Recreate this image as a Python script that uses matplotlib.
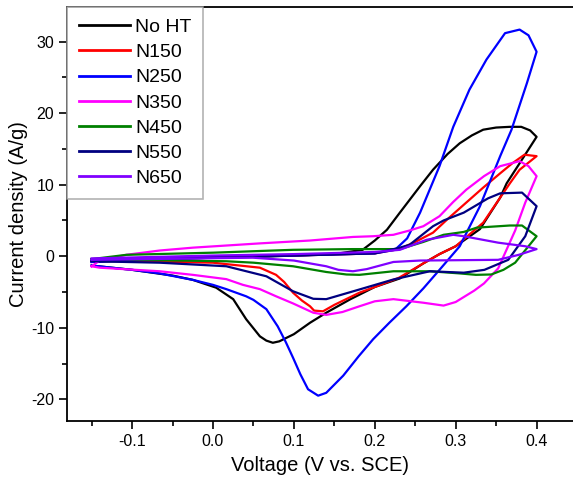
import matplotlib
matplotlib.use("Agg")
import matplotlib.pyplot as plt
from matplotlib.ticker import MultipleLocator

plt.rcParams['font.family'] = ['Liberation Sans', 'DejaVu Sans']
plt.rcParams['axes.unicode_minus'] = False

# --- data (each list is one closed CV loop) ---
labels = ['No HT', 'N150', 'N250', 'N350', 'N450', 'N550', 'N650']
colors = ['#000000', '#FF0000', '#0000FF', '#FF00FF', '#008000', '#000080', '#8000FF']

v_noht = [-0.15, -0.10, -0.05, 0.00, 0.05, 0.10, 0.15, 0.185, 0.20, 0.215, 0.231, 0.256, 0.272,
          0.29, 0.305, 0.32, 0.334, 0.35, 0.367, 0.381, 0.392, 0.40,
          0.379, 0.363, 0.355, 0.33, 0.30, 0.28, 0.26, 0.231, 0.20, 0.17, 0.14, 0.12, 0.10,
          0.091, 0.082, 0.074, 0.066, 0.058, 0.041, 0.025, 0.004, -0.025, -0.05, -0.10, -0.15]
i_noht = [-0.8, -0.6, -0.4, -0.2, -0.1, 0.1, 0.3, 0.9, 2.2, 3.7, 6.1, 9.8, 12.1,
          14.3, 15.8, 16.9, 17.7, 18.0, 18.1, 18.1, 17.6, 16.7,
          13.0, 10.2, 8.2, 3.8, 1.4, 0.3, -1.0, -3.1, -4.3, -6.0, -7.9, -9.3, -10.9,
          -11.4, -11.9, -12.1, -11.8, -11.2, -8.8, -6.0, -4.4, -3.3, -2.7, -1.9, -1.3]

v_n150 = [-0.15, -0.10, 0.00, 0.10, 0.20, 0.23, 0.25, 0.272, 0.29, 0.313, 0.334, 0.355, 0.37,
          0.385, 0.40,
          0.379, 0.367, 0.334, 0.30, 0.28, 0.26, 0.23, 0.20, 0.181, 0.15, 0.136, 0.125, 0.12,
          0.11, 0.099, 0.088, 0.078, 0.058, 0.00, -0.10, -0.15]
i_n150 = [-0.6, -0.4, -0.1, 0.1, 0.4, 1.0, 2.0, 3.3, 5.2, 7.5, 9.6, 11.6, 13.0,
          14.2, 14.0,
          12.1, 10.2, 4.7, 1.4, 0.3, -1.0, -3.0, -4.3, -5.1, -6.8, -7.7, -7.6, -7.0,
          -6.2, -5.1, -3.6, -2.6, -1.6, -0.9, -0.7, -0.6]

v_n250 = [-0.15, -0.10, 0.00, 0.10, 0.20, 0.225, 0.24, 0.256, 0.28, 0.297, 0.317, 0.338, 0.361,
          0.379, 0.39, 0.40,
          0.388, 0.369, 0.355, 0.33, 0.305, 0.28, 0.26, 0.239, 0.218, 0.198, 0.18, 0.161,
          0.14, 0.13, 0.1175, 0.108, 0.099, 0.09, 0.08, 0.066, 0.05, 0.041, 0.0165, 0.0,
          -0.025, -0.066, -0.10, -0.15]
i_n250 = [-0.8, -0.5, -0.2, 0.1, 0.4, 0.9, 2.5, 6.1, 12.6, 18.1, 23.3, 27.5, 31.2,
          31.7, 30.9, 28.6,
          24.2, 17.7, 14.0, 7.0, 1.4, -1.9, -4.5, -7.0, -9.3, -11.6, -14.0, -16.7,
          -19.1, -19.5, -18.6, -16.5, -14.2, -12.0, -9.8, -7.4, -6.1, -5.6, -4.6, -4.0,
          -3.3, -2.4, -1.9, -1.3]

v_n350 = [-0.15, -0.14, -0.107, -0.066, -0.025, 0.058, 0.12, 0.173, 0.198, 0.223, 0.243, 0.26,
          0.28, 0.297, 0.313, 0.335, 0.355, 0.379, 0.39, 0.40,
          0.386, 0.3735, 0.3525, 0.335, 0.323, 0.30, 0.285, 0.26, 0.223, 0.20, 0.181, 0.16,
          0.14, 0.124, 0.099, 0.078, 0.058, 0.037, 0.0165, -0.025, -0.066, -0.14, -0.15]
i_n350 = [-1.4, -0.6, 0.2, 0.8, 1.2, 1.8, 2.2, 2.7, 2.8, 3.0, 3.6, 4.2,
          5.6, 7.6, 9.3, 11.2, 12.6, 13.3, 12.6, 11.2,
          7.5, 3.6, -1.7, -3.8, -4.8, -6.4, -6.9, -6.5, -6.0, -6.3, -7.0, -7.8,
          -8.2, -7.9, -6.6, -5.6, -4.6, -4.0, -3.2, -2.6, -2.1, -1.6, -1.4]

v_n450 = [-0.15, -0.107, 0.00, 0.099, 0.173, 0.231, 0.26, 0.285, 0.31, 0.326, 0.367, 0.382,
          0.40,
          0.39, 0.3735, 0.359, 0.344, 0.325, 0.305, 0.268, 0.223, 0.181, 0.165, 0.14, 0.099,
          0.05, 0.0165, -0.10, -0.15]
i_n450 = [-0.4, 0.2, 0.5, 0.9, 1.0, 1.0, 2.0, 3.0, 3.4, 4.0, 4.3, 4.3,
          2.8,
          1.4, -0.9, -1.9, -2.55, -2.6, -2.4, -2.1, -2.1, -2.6, -2.55, -2.2, -1.4,
          -0.9, -0.7, -0.5, -0.4]

v_n550 = [-0.15, -0.066, 0.00, 0.10, 0.20, 0.231, 0.243, 0.272, 0.285, 0.31, 0.34, 0.355,
          0.382, 0.40,
          0.386, 0.365, 0.3355, 0.31, 0.268, 0.223, 0.181, 0.14, 0.124, 0.099, 0.066, 0.0165,
          -0.066, -0.15]
i_n550 = [-0.6, -0.3, -0.1, 0.1, 0.4, 1.2, 1.6, 4.2, 5.0, 6.1, 8.1, 8.8,
          8.9, 7.0,
          2.8, -0.5, -1.9, -2.3, -2.1, -3.25, -4.65, -6.0, -5.95, -4.9, -2.8, -1.4,
          -0.9, -0.7]

v_n650 = [-0.15, 0.00, 0.10, 0.20, 0.231, 0.264, 0.297, 0.31, 0.3525, 0.386, 0.40,
          0.378, 0.3525, 0.305, 0.256, 0.223, 0.19, 0.173, 0.155, 0.14, 0.10, 0.049, -0.15]
i_n650 = [-0.3, 0.1, 0.3, 0.6, 0.9, 2.3, 3.0, 2.8, 1.9, 1.4, 1.0,
          0.2, -0.5, -0.55, -0.6, -0.8, -1.8, -2.1, -1.9, -1.4, -0.6, -0.2, -0.5]

series_v = [v_noht, v_n150, v_n250, v_n350, v_n450, v_n550, v_n650]
series_i = [i_noht, i_n150, i_n250, i_n350, i_n450, i_n550, i_n650]

fig = plt.figure(figsize=(5.73, 4.79), dpi=100)
ax = fig.add_axes([0.1175, 0.1217, 0.8825, 0.8643])

for v, cur, c, lab in zip(series_v, series_i, colors, labels):
    ax.plot(v, cur, color=c, linewidth=1.6, label=lab)

ax.set_xlim(-0.18, 0.445)
ax.set_ylim(-23, 34.9)
ax.xaxis.set_major_locator(MultipleLocator(0.1))
ax.xaxis.set_minor_locator(MultipleLocator(0.05))
ax.yaxis.set_major_locator(MultipleLocator(10))
ax.yaxis.set_minor_locator(MultipleLocator(5))
ax.set_xticks([-0.1, 0.0, 0.1, 0.2, 0.3, 0.4])
ax.set_xticklabels(['-0.1', '0.0', '0.1', '0.2', '0.3', '0.4'])

ax.tick_params(which='major', direction='out', length=6, width=1.2, labelsize=11.5)
ax.tick_params(which='minor', direction='out', length=3.5, width=1.2)
ax.spines['right'].set_visible(False)
for s in ['left', 'bottom', 'top']:
    ax.spines[s].set_linewidth(1.3)

ax.set_xlabel('Voltage (V vs. SCE)', fontsize=14.5, labelpad=5)
ax.set_ylabel('Current density (A/g)', fontsize=14.5, labelpad=2)

leg = ax.legend(loc='upper left', bbox_to_anchor=(0, 1), borderaxespad=0,
                fontsize=14, frameon=True, fancybox=False, handlelength=2.6,
                handletextpad=0.3, labelspacing=0.39, borderpad=0.6)
leg.get_frame().set_edgecolor('#A0A0A0')
leg.get_frame().set_linewidth(1.2)
for line in leg.get_lines():
    line.set_linewidth(2.0)

fig.savefig('out.png', dpi=100)
